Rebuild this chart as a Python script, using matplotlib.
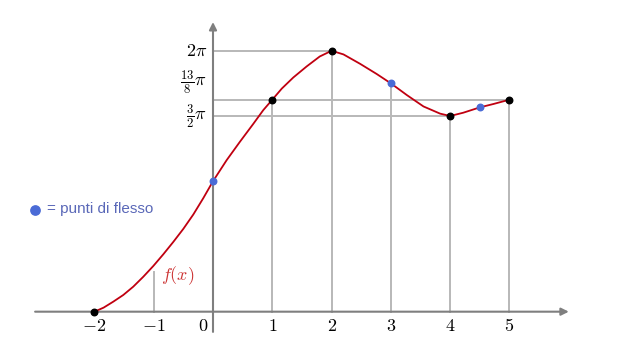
import matplotlib
matplotlib.use("Agg")
import matplotlib.pyplot as plt

plt.rcParams['mathtext.fontset'] = 'cm'

# dati (y in multipli di pi)
curva_x = [-2.0, -1.845, -1.681, -1.513, -1.344, -1.175, -1.007, -0.838,
           -0.669, -0.50, -0.332, -0.164, 0.0, 0.231, 0.455, 0.68, 0.848,
           1.0, 1.16, 1.354, 1.58, 1.80, 2.0, 2.20, 2.48, 2.76, 3.0, 3.27,
           3.55, 3.83, 4.0, 4.22, 4.5, 4.73, 5.0]
curva_y = [0.0, 0.031, 0.077, 0.128, 0.192, 0.268, 0.350, 0.440,
           0.535, 0.635, 0.745, 0.870, 1.0, 1.162, 1.303, 1.440, 1.545,
           1.625, 1.71, 1.795, 1.880, 1.956, 2.0, 1.972, 1.900, 1.822, 1.75,
           1.66, 1.573, 1.518, 1.5, 1.525, 1.566, 1.592, 1.625]

punti_x = [-2, 1, 2, 4, 5]
punti_y = [0, 1.625, 2.0, 1.5, 1.625]

flessi_x = [0, 3, 4.5]
flessi_y = [1.0, 1.75, 1.566]

# linee di riferimento verticali: (x, altezza)
vert_x = [-1, 1, 2, 3, 4, 5]
vert_top = [0.302, 1.625, 2.0, 1.75, 1.5, 1.625]
# linee orizzontali: (y, fine)
oriz_y = [2.0, 1.625, 1.5]
oriz_fine = [2, 5, 4]

xtick_val = [-2, -1, 1, 2, 3, 4, 5]
xtick_lab = [r"$-2$", r"$-1$", r"$1$", r"$2$", r"$3$", r"$4$", r"$5$"]
ytick_pos = [2.0, 1.76, 1.5]
ytick_lab = [r"$2\pi$", r"$\frac{13}{8}\pi$", r"$\frac{3}{2}\pi$"]

fig = plt.figure(figsize=(6.17, 3.61), dpi=100)
ax = fig.add_axes([0, 0, 1, 1])
ax.set_xlim(-3.592, 6.813)
ax.set_ylim(-0.378, 2.389)
ax.axis('off')

grigio = '#b8b8b8'
for x, t in zip(vert_x, vert_top):
    ax.plot([x, x], [0, t], color=grigio, lw=1.4, zorder=1)
for y, f in zip(oriz_y, oriz_fine):
    ax.plot([0, f], [y, y], color=grigio, lw=1.4, zorder=1)

# assi con frecce
ax.annotate('', xy=(6.0, 0), xytext=(-3.0, 0),
            arrowprops=dict(arrowstyle='-|>', color='#7f7f7f', lw=1.5,
                            mutation_scale=11, shrinkA=0, shrinkB=0), zorder=2)
ax.annotate('', xy=(0, 2.22), xytext=(0, -0.155),
            arrowprops=dict(arrowstyle='-|>', color='#7f7f7f', lw=1.5,
                            mutation_scale=11, shrinkA=0, shrinkB=0), zorder=2)

ax.plot(curva_x, curva_y, color='#c00010', lw=1.3, zorder=3,
        solid_joinstyle='round')
ax.scatter(punti_x, punti_y, s=22, color='black', zorder=4)
ax.scatter(flessi_x, flessi_y, s=22, color='#4a6bd6', zorder=4)

for v, l in zip(xtick_val, xtick_lab):
    ax.text(v, -0.11, l, ha='center', va='center', fontsize=13)
ax.text(-0.17, -0.11, r"$0$", ha='center', va='center', fontsize=13)
for p, l in zip(ytick_pos, ytick_lab):
    ax.text(-0.1, p, l, ha='right', va='center', fontsize=13)

ax.text(-0.87, 0.28, r"$f(x)$", color='#cc3333', ha='left', va='center',
        fontsize=13)

ax.scatter([-3.0], [0.78], s=45, color='#4a6bd6', zorder=4)
ax.text(-2.8, 0.785, "= punti di flesso", color='#5a68b8', ha='left',
        va='center', fontsize=11, family='Liberation Sans')

fig.savefig('out.png', dpi=100)
